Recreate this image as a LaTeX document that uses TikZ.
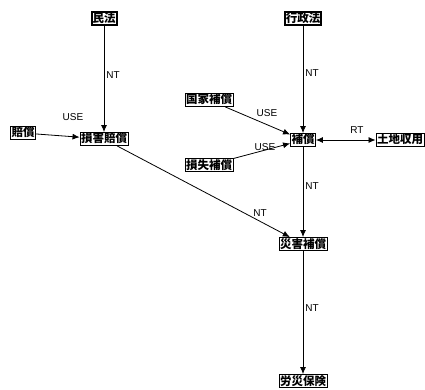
\documentclass[tikz,border=0pt]{standalone}
\usepackage{fontspec}
\setmainfont{Liberation Sans}
\newfontfamily\cjk{Noto Sans CJK JP}
\usetikzlibrary{arrows.meta}
\begin{document}
\begin{tikzpicture}[x=1pt,y=-1pt,
  term/.style={draw,line width=0.9pt,inner sep=1pt,font=\cjk\bfseries\fontsize{11.5}{13}\selectfont,text height=9.5pt,text depth=1.5pt},
  topterm/.style={term,line width=2pt},
  conn/.style={line width=0.8pt,-{Latex[length=7pt,width=6pt]}},
  lab/.style={font=\fontsize{10}{12}\selectfont,inner sep=1pt}]
\useasboundingbox (0,0) rectangle (425,390);
\node[topterm] (minpo) at (104,19) {民法};
\node[topterm] (gyosei) at (303,19) {行政法};
\node[term] (baisho) at (23,133) {賠償};
\node[term] (songai) at (104,139) {損害賠償};
\node[term] (kokka) at (209,100) {国家補償};
\node[term] (hosho) at (303,140) {補償};
\node[term] (tochi) at (400,140) {土地収用};
\node[term] (sonshitsu) at (209,165) {損失補償};
\node[term] (saigai) at (303,244) {災害補償};
\node[term] (rosai) at (303,381) {労災保険};
\draw[conn] (minpo) -- (songai);
\node[lab] at (113,75) {NT};
\draw[conn] (baisho) -- (songai);
\node[lab] at (73,117) {USE};
\draw[conn] (songai) -- (saigai);
\node[lab] at (260,213) {NT};
\draw[conn] (gyosei) -- (hosho);
\node[lab] at (312,73) {NT};
\draw[conn] (kokka) -- (hosho);
\node[lab] at (267,113) {USE};
\draw[conn] (sonshitsu) -- (hosho);
\node[lab] at (265,147) {USE};
\draw[conn,{Latex[length=7pt,width=6pt]}-{Latex[length=7pt,width=6pt]}] (hosho) -- (tochi);
\node[lab] at (357,130) {RT};
\draw[conn] (hosho) -- (saigai);
\node[lab] at (312,186) {NT};
\draw[conn] (saigai) -- (rosai);
\node[lab] at (312,308) {NT};
\end{tikzpicture}
\end{document}
